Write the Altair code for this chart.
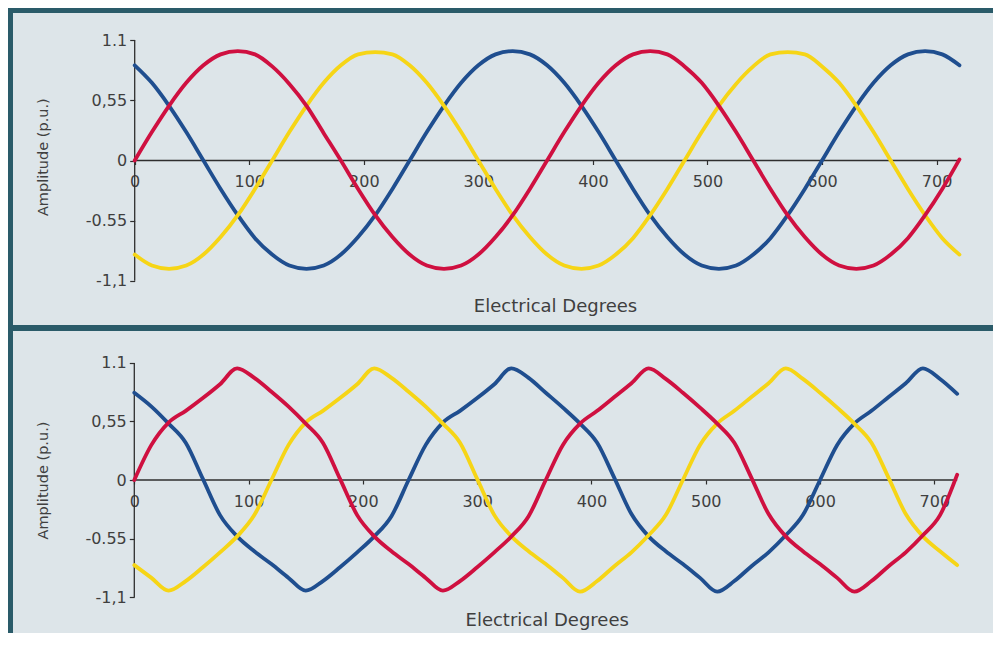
import altair as alt
import pandas as pd

# ---------------- data ----------------
DEGREES = list(range(0, 721, 15))

# upper panel: balanced sinusoidal three-phase set
TOP_RED = [0.00, 0.26, 0.50, 0.71, 0.87, 0.97, 1.00, 0.97, 0.86, 0.70, 0.50, 0.25,
           0.00, -0.26, -0.50, -0.70, -0.86, -0.96, -0.99, -0.96, -0.86, -0.70, -0.50, -0.26,
           0.00, 0.26, 0.50, 0.71, 0.87, 0.97, 1.00, 0.97, 0.86, 0.71, 0.50, 0.26,
           0.00, -0.26, -0.50, -0.70, -0.86, -0.96, -0.99, -0.96, -0.86, -0.71, -0.50, -0.26,
           0.01]
TOP_YELLOW = [-0.86, -0.96, -0.99, -0.96, -0.86, -0.70, -0.50, -0.26, 0.00, 0.26, 0.50, 0.71,
              0.87, 0.97, 0.99, 0.97, 0.87, 0.71, 0.50, 0.26, 0.00, -0.26, -0.50, -0.70,
              -0.86, -0.96, -0.99, -0.96, -0.86, -0.71, -0.50, -0.26, 0.00, 0.26, 0.50, 0.70,
              0.86, 0.97, 0.99, 0.97, 0.86, 0.71, 0.50, 0.26, 0.00, -0.26, -0.50, -0.71,
              -0.86]
TOP_BLUE = [0.87, 0.71, 0.50, 0.26, 0.00, -0.26, -0.50, -0.71, -0.86, -0.96, -0.99, -0.96,
            -0.86, -0.70, -0.50, -0.26, 0.00, 0.26, 0.50, 0.71, 0.87, 0.97, 1.00, 0.97,
            0.87, 0.71, 0.50, 0.26, 0.00, -0.26, -0.50, -0.70, -0.86, -0.96, -0.99, -0.96,
            -0.86, -0.71, -0.50, -0.26, 0.00, 0.26, 0.50, 0.71, 0.87, 0.97, 1.00, 0.97,
            0.87]

# lower panel: distorted (harmonic-rich) three-phase set
BOT_RED = [0.00, 0.33, 0.54, 0.65, 0.77, 0.90, 1.05, 0.96, 0.83, 0.69, 0.53, 0.35,
           0.01, -0.33, -0.53, -0.67, -0.79, -0.92, -1.04, -0.95, -0.82, -0.68, -0.53, -0.34,
           0.00, 0.33, 0.53, 0.65, 0.78, 0.91, 1.05, 0.95, 0.82, 0.68, 0.53, 0.35,
           0.02, -0.32, -0.53, -0.67, -0.79, -0.92, -1.05, -0.95, -0.81, -0.68, -0.52, -0.33,
           0.05]
BOT_YELLOW = [-0.80, -0.92, -1.04, -0.95, -0.82, -0.68, -0.53, -0.33, 0.00, 0.33, 0.54, 0.65,
              0.77, 0.90, 1.05, 0.96, 0.83, 0.69, 0.53, 0.35, 0.01, -0.33, -0.53, -0.67,
              -0.79, -0.92, -1.05, -0.95, -0.81, -0.68, -0.52, -0.33, 0.00, 0.33, 0.53, 0.65,
              0.78, 0.91, 1.05, 0.95, 0.82, 0.68, 0.53, 0.35, 0.02, -0.32, -0.53, -0.67,
              -0.80]
BOT_BLUE = [0.82, 0.69, 0.53, 0.35, 0.01, -0.33, -0.53, -0.67, -0.79, -0.92, -1.04, -0.95,
            -0.82, -0.68, -0.53, -0.34, 0.00, 0.33, 0.54, 0.65, 0.77, 0.90, 1.05, 0.96,
            0.82, 0.68, 0.53, 0.35, 0.02, -0.32, -0.53, -0.67, -0.79, -0.92, -1.05, -0.95,
            -0.81, -0.68, -0.52, -0.33, 0.00, 0.33, 0.53, 0.65, 0.78, 0.91, 1.05, 0.95,
            0.81]

X_TICKS = [0, 100, 200, 300, 400, 500, 600, 700]
X_END = 720
Y_TICKS = [1.1, 0.55, 0, -0.55, -1.1]
Y_TICK_LABELS = ["1.1", "0,55", "0", "-0.55", "-1,1"]
X_TITLE = "Electrical Degrees"
Y_TITLE = "Amplitude (p.u.)"

# ---------------- styling ----------------
COLORS = {"blue": "#1f4e8f", "yellow": "#f6d516", "red": "#cf1040"}
W = 985
FRAME = "#2a5b69"
BG = "#dde5e9"
FONT = "DejaVu Sans"
TEXT = "#3f3f3f"
AXIS = "#2e2e2e"

LABEL_EXPR = " : ".join(
    f"datum.value == {v} ? '{l}'" for v, l in zip(Y_TICKS, Y_TICK_LABELS)
) + " : ''"


def panel(series, height, x_px0, x_k, y_px0, y_k, ytitle_y, xtitle_x, xtitle_y, top):
    xdom = [-x_px0 / x_k, (W - x_px0) / x_k]
    ydom = [-(height - y_px0) / y_k, y_px0 / y_k]
    x_enc = alt.X(
        "deg:Q",
        scale=alt.Scale(domain=xdom, nice=False, zero=False),
        axis=alt.Axis(
            values=X_TICKS, offset=y_px0 - height, domain=False, grid=False,
            tickSize=4, tickColor=AXIS, tickWidth=1.2,
            labelPadding=9, labelFont=FONT, labelFontSize=16, labelColor=TEXT,
            labelOverlap=False, labelFlush=False,
            title=X_TITLE, titleFont=FONT, titleFontSize=18, titleFontWeight="normal",
            titleColor=TEXT, titleX=xtitle_x, titleY=xtitle_y,
            titleBaseline="middle", titleAlign="center", zindex=0,
        ),
    )
    y_enc = alt.Y(
        "val:Q",
        scale=alt.Scale(domain=ydom, nice=False, zero=False),
        axis=alt.Axis(
            values=Y_TICKS, labelExpr=LABEL_EXPR, offset=-x_px0, domain=False, grid=False,
            tickSize=5, tickColor=AXIS, tickWidth=1.2,
            labelPadding=3, labelFont=FONT, labelFontSize=16, labelColor=TEXT,
            labelOverlap=False, labelFlush=False,
            title=Y_TITLE, titleFont=FONT, titleFontSize=14.5, titleFontWeight="normal",
            titleColor=TEXT, titleAngle=270, titleX=35 - x_px0, titleY=ytitle_y,
            titleBaseline="middle", titleAlign="center", zindex=0,
        ),
    )

    axes_df = pd.DataFrame({
        "deg": [0, 0], "deg2": [0, X_END],
        "val": [Y_TICKS[-1], 0], "val2": [Y_TICKS[0], 0],
    })
    layers = [
        alt.Chart(axes_df).mark_rule(color=AXIS, strokeWidth=1.3).encode(
            x=x_enc, x2="deg2:Q", y=y_enc, y2="val2:Q"
        )
    ]
    for name, vals in series:
        df = pd.DataFrame({"deg": DEGREES, "val": vals})
        layers.append(
            alt.Chart(df).mark_line(
                color=COLORS[name], strokeWidth=3.8, interpolate="monotone",
                strokeCap="round", strokeJoin="round",
            ).encode(x=x_enc, y=y_enc)
        )

    # panel frame (decoration)
    dummy = pd.DataFrame({"k": [0]})
    edge = 5 if top else 6
    layers.append(alt.Chart(dummy).mark_rect(color=FRAME).encode(
        x=alt.value(0), x2=alt.value(W), y=alt.value(0), y2=alt.value(edge)))
    layers.append(alt.Chart(dummy).mark_rect(color=FRAME).encode(
        x=alt.value(0), x2=alt.value(5), y=alt.value(0), y2=alt.value(height)))

    return alt.layer(*layers).properties(width=W, height=height)


top_panel = panel(
    [("blue", TOP_BLUE), ("yellow", TOP_YELLOW), ("red", TOP_RED)],
    height=317, x_px0=126.7, x_k=1.1455, y_px0=152.5, y_k=109.4,
    ytitle_y=148.7, xtitle_x=547, xtitle_y=145.5, top=True,
)
bottom_panel = panel(
    [("blue", BOT_BLUE), ("yellow", BOT_YELLOW), ("red", BOT_RED)],
    height=308, x_px0=126.3, x_k=1.1429, y_px0=155, y_k=106.4,
    ytitle_y=155, xtitle_x=538.7, xtitle_y=140, top=False,
)

chart = (
    alt.vconcat(top_panel, bottom_panel, spacing=0)
    .properties(padding=0, background="white")
    .configure_view(fill=BG, strokeWidth=0)
)

chart.save("out.html", embed_options={"renderer": "svg", "actions": False})
